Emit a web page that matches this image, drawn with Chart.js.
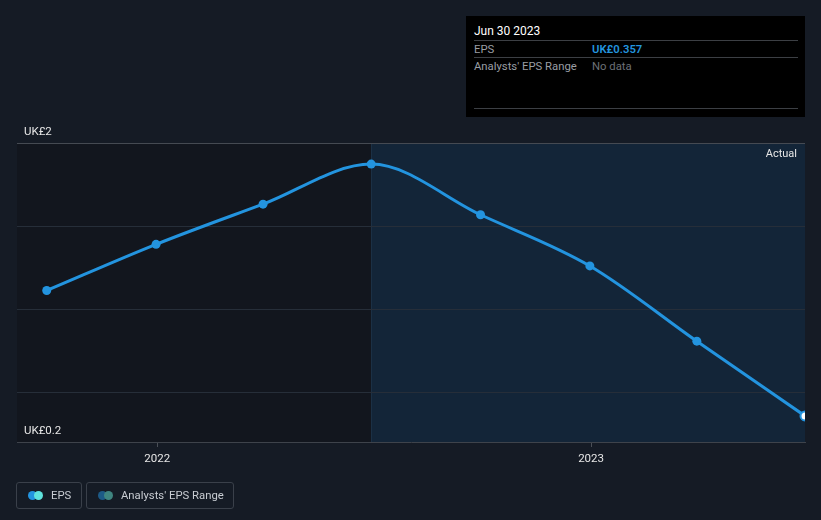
<!DOCTYPE html>
<html>
<head>
<meta charset="utf-8">
<script src="https://cdn.jsdelivr.net/npm/chart.js@4.4.0/dist/chart.umd.min.js"></script>
<style>
    body { margin: 0; background: #151b25; font-family: Roboto, "Open Sans", sans-serif; }
    #wrap { position: relative; width: 821px; height: 520px; }
    #eps-chart { position: absolute; left: 0; top: 0; }
    .tip { position: absolute; left: 466px; top: 16px; width: 339px; height: 101px; background: #000; }
    .tip .date { position: absolute; left: 8px; top: 8px; color: #fff; font-size: 12px; font-weight: 400; }
    .tip .row { position: absolute; left: 8px; width: 324px; height: 17px; border-top: 1px solid #3c3f44; font-size: 11.3px; line-height: 17px; }
    .tip .lab { position: absolute; left: 0; color: #9a9ea4; }
    .tip .val { position: absolute; left: 118px; }
    .tip .bottom { position: absolute; left: 8px; top: 92px; width: 324px; border-top: 1px solid #3c3f44; }
    .legend { position: absolute; top: 482px; height: 27px; border: 1px solid #3a404a; border-radius: 3px; box-sizing: border-box; color: #c8ccd2; font-size: 11.3px; line-height: 25px; }
    .dots { position: absolute; left: 11px; top: 8px; width: 16px; height: 9px; }
    .dots span { position: absolute; top: 0; width: 9px; height: 9px; border-radius: 50%; }
</style>
</head>
<body>
<div id="wrap">
    <canvas id="eps-chart" width="821" height="520"></canvas>
    <div class="tip">
        <div class="date">Jun 30 2023</div>
        <div class="row" style="top:24px"><span class="lab">EPS</span><span class="val" style="color:#2394df;font-weight:600">UK£0.357</span></div>
        <div class="row" style="top:41px"><span class="lab">Analysts' EPS Range</span><span class="val" style="color:#6c7077">No data</span></div>
        <div class="bottom"></div>
    </div>
    <div class="legend" style="left:16px;width:66px">
        <div class="dots"><span style="left:0;background:#2394df"></span><span style="left:6px;background:#5fe3dd"></span></div>
        <span style="position:absolute;left:34px">EPS</span>
    </div>
    <div class="legend" style="left:86px;width:148px">
        <div class="dots"><span style="left:0;background:#1d5a86"></span><span style="left:6px;background:#3f8580"></span></div>
        <span style="position:absolute;left:34px">Analysts' EPS Range</span>
    </div>
</div>
<script>
const PERIODS = ["2021-09-30", "2021-12-31", "2022-03-31", "2022-06-30", "2022-09-30", "2022-12-31", "2023-03-31", "2023-06-30"];
const EPS = [1.112, 1.39, 1.632, 1.873, 1.568, 1.26, 0.807, 0.357];
const Y_TICKS = [0.2, 0.5, 1, 1.5, 2];
const X_TICKS = ["2022-01-01", "2023-01-01"];
const X_TICK_LABELS = ["2022", "2023"];
const ACTUAL_FROM = "2022-06-30";

const DAY = 86400000;
const t = s => Date.parse(s + "T00:00:00Z");

const points = PERIODS.map((p, i) => ({ x: t(p), y: EPS[i] }));
const last = EPS.length - 1;

// shaded "Actual" zone and divider
const zonePlugin = {
    id: "zones",
    beforeDraw(chart) {
        const { ctx, chartArea: a, scales } = chart;
        const xs = scales.x.getPixelForValue(t(ACTUAL_FROM));
        ctx.save();
        ctx.fillStyle = "#12161e";
        ctx.fillRect(a.left, a.top, xs - a.left, a.bottom - a.top);
        ctx.fillStyle = "#132538";
        ctx.fillRect(xs, a.top, a.right - xs, a.bottom - a.top);
        ctx.strokeStyle = "#1b3045";
        ctx.lineWidth = 1;
        ctx.beginPath();
        ctx.moveTo(Math.round(xs) + 0.5, a.top);
        ctx.lineTo(Math.round(xs) + 0.5, a.bottom);
        ctx.stroke();
        ctx.restore();
    },
    afterDraw(chart) {
        const { ctx, chartArea: a } = chart;
        ctx.save();
        ctx.fillStyle = "#e6e6e6";
        ctx.font = "11px Roboto";
        ctx.textAlign = "right";
        ctx.textBaseline = "middle";
        ctx.fillText("Actual", a.right - 8, a.top + 11);
        ctx.restore();
    }
};

const ctx = document.getElementById("eps-chart").getContext("2d");
new Chart(ctx, {
    type: "line",
    data: {
        datasets: [{
            label: "EPS",
            data: points,
            borderColor: "#2394df",
            borderWidth: 3,
            cubicInterpolationMode: "monotone",
            pointRadius: 4.5,
            pointBackgroundColor: EPS.map((v, i) => i === last ? "#ffffff" : "#2394df"),
            pointBorderColor: "#2394df",
            pointBorderWidth: EPS.map((v, i) => i === last ? 2 : 0)
        }]
    },
    options: {
        responsive: false,
        animation: false,
        layout: { padding: { left: 17, right: 16, top: 143, bottom: 0 } },
        plugins: { legend: { display: false }, tooltip: { enabled: false } },
        scales: {
            x: {
                type: "linear",
                min: t(PERIODS[0]) - 25 * DAY,
                max: t(PERIODS[last]),
                afterBuildTicks: s => { s.ticks = X_TICKS.map(d => ({ value: t(d) })); },
                afterFit: s => { s.height = 78; },
                ticks: {
                    color: "#e6e6e6",
                    font: { family: "Roboto", size: 11.5 },
                    padding: 5,
                    maxRotation: 0,
                    callback: (v, i) => X_TICK_LABELS[i]
                },
                grid: { drawOnChartArea: false, drawTicks: true, tickLength: 5, tickColor: "#4a4f57" },
                border: { color: "#3e434b", width: 1 }
            },
            y: {
                min: 0.2,
                max: 2,
                afterBuildTicks: s => { s.ticks = Y_TICKS.map(v => ({ value: v })); },
                afterFit: s => { s.width = 0; },
                ticks: {
                    mirror: true,
                    padding: 7,
                    labelOffset: -11,
                    color: "#e6e6e6",
                    font: { family: "Roboto", size: 11.5 },
                    callback: v => (v === 2 || v === 0.2) ? "UK£" + v : ""
                },
                grid: {
                    drawTicks: false,
                    color: c => c.tick.value === 2 ? "#454a52" : (c.tick.value === 0.2 ? "rgba(0,0,0,0)" : "#262e39")
                },
                border: { display: false }
            }
        }
    },
    plugins: [zonePlugin]
});
</script>
</body>
</html>
